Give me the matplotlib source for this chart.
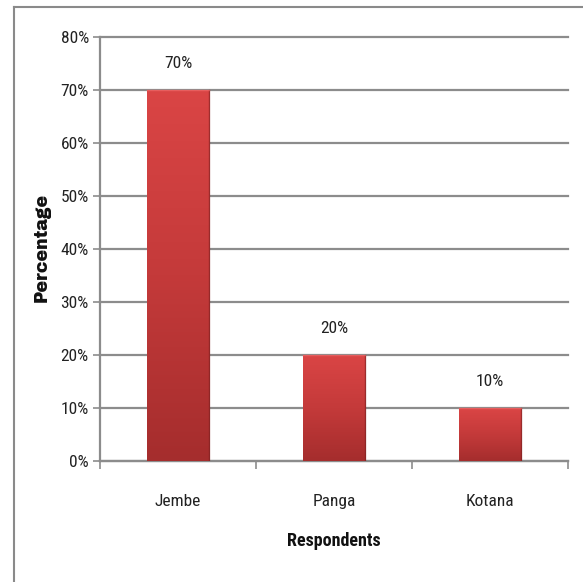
import matplotlib
matplotlib.use("Agg")
import matplotlib.pyplot as plt
import numpy as np
from matplotlib.colors import LinearSegmentedColormap

categories = ["Jembe", "Panga", "Kotana"]
values = [70, 20, 10]
yticks = [0, 10, 20, 30, 40, 50, 60, 70, 80]

FONT = ["Roboto Condensed", "Carlito", "DejaVu Sans"]
HEAVY = ["Archivo Black", "DejaVu Sans"]

fig = plt.figure(figsize=(5.83, 5.82), dpi=100)
ax = fig.add_axes([0.1715, 0.2079, 0.8028, 0.7285])

grid_c = "#8c8c8c"
x = np.arange(len(categories))
bars = ax.bar(x, values, width=0.4, color="#c83a3a", zorder=3, linewidth=0)

cmap = LinearSegmentedColormap.from_list("g", ["#a52d2d", "#c43a3a", "#da4545"])
grad = np.linspace(0, 1, 256).reshape(-1, 1)
for b in bars:
    x0, w, h = b.get_x(), b.get_width(), b.get_height()
    im = ax.imshow(grad, cmap=cmap, origin="lower", aspect="auto",
                   extent=[x0, x0 + w, 0, h], zorder=3.5)
    im.set_clip_path(b)
    ax.plot([x0 + w, x0 + w], [0, h], color="#7a2020", lw=1.0, zorder=4, alpha=0.6)
    ax.plot([x0, x0 + w], [h, h], color="#f07070", lw=1.0, zorder=4, alpha=0.6)

for xi, v in zip(x, values):
    ax.text(xi, v + 5, f"{v}%", ha="center", va="center", fontsize=12.5, family=FONT, color="#222222")

ax.set_xlim(-0.5, 2.5)
ax.set_ylim(0, 80)
ax.set_yticks(yticks)
ax.set_yticklabels([f"{t}%" for t in yticks], family=FONT, fontsize=12.5, color="#222222")
ax.set_xticks([-0.5, 0.5, 1.5, 2.5], minor=False)
ax.set_xticklabels([])
ax.set_xticks(x, minor=True)
ax.set_xticklabels(categories, minor=True, family=FONT, fontsize=12.5, color="#222222")
ax.tick_params(axis="x", which="minor", length=0, pad=24)
ax.tick_params(axis="x", which="major", length=6, color=grid_c, width=1.2)
ax.tick_params(axis="y", length=5, color=grid_c, width=1.2, pad=3)
ax.yaxis.grid(True, color=grid_c, lw=1.6, zorder=1)
for gl in ax.get_ygridlines():
    gl.set_clip_on(False)
ax.set_axisbelow(True)
for s in ["top", "right"]:
    ax.spines[s].set_visible(False)
for s in ["left", "bottom"]:
    ax.spines[s].set_color(grid_c)
    ax.spines[s].set_linewidth(1.6)

ax.set_xlabel("Respondents", family=FONT, fontweight="bold", fontsize=13, labelpad=16, color="#111111")
fig.text(0.072, 0.574, "Percentage", rotation=90, ha="center", va="center",
         fontsize=12.5, family=HEAVY, color="#111111")

# outer chart border (top and left visible)
fig.add_artist(plt.Line2D([14/583, 1.0], [1 - 7/582, 1 - 7/582], color="#8a8a8a", lw=1.5, transform=fig.transFigure))
fig.add_artist(plt.Line2D([14/583, 14/583], [1 - 7/582, 0.0], color="#8a8a8a", lw=1.5, transform=fig.transFigure))

fig.savefig("out.png", dpi=100)
